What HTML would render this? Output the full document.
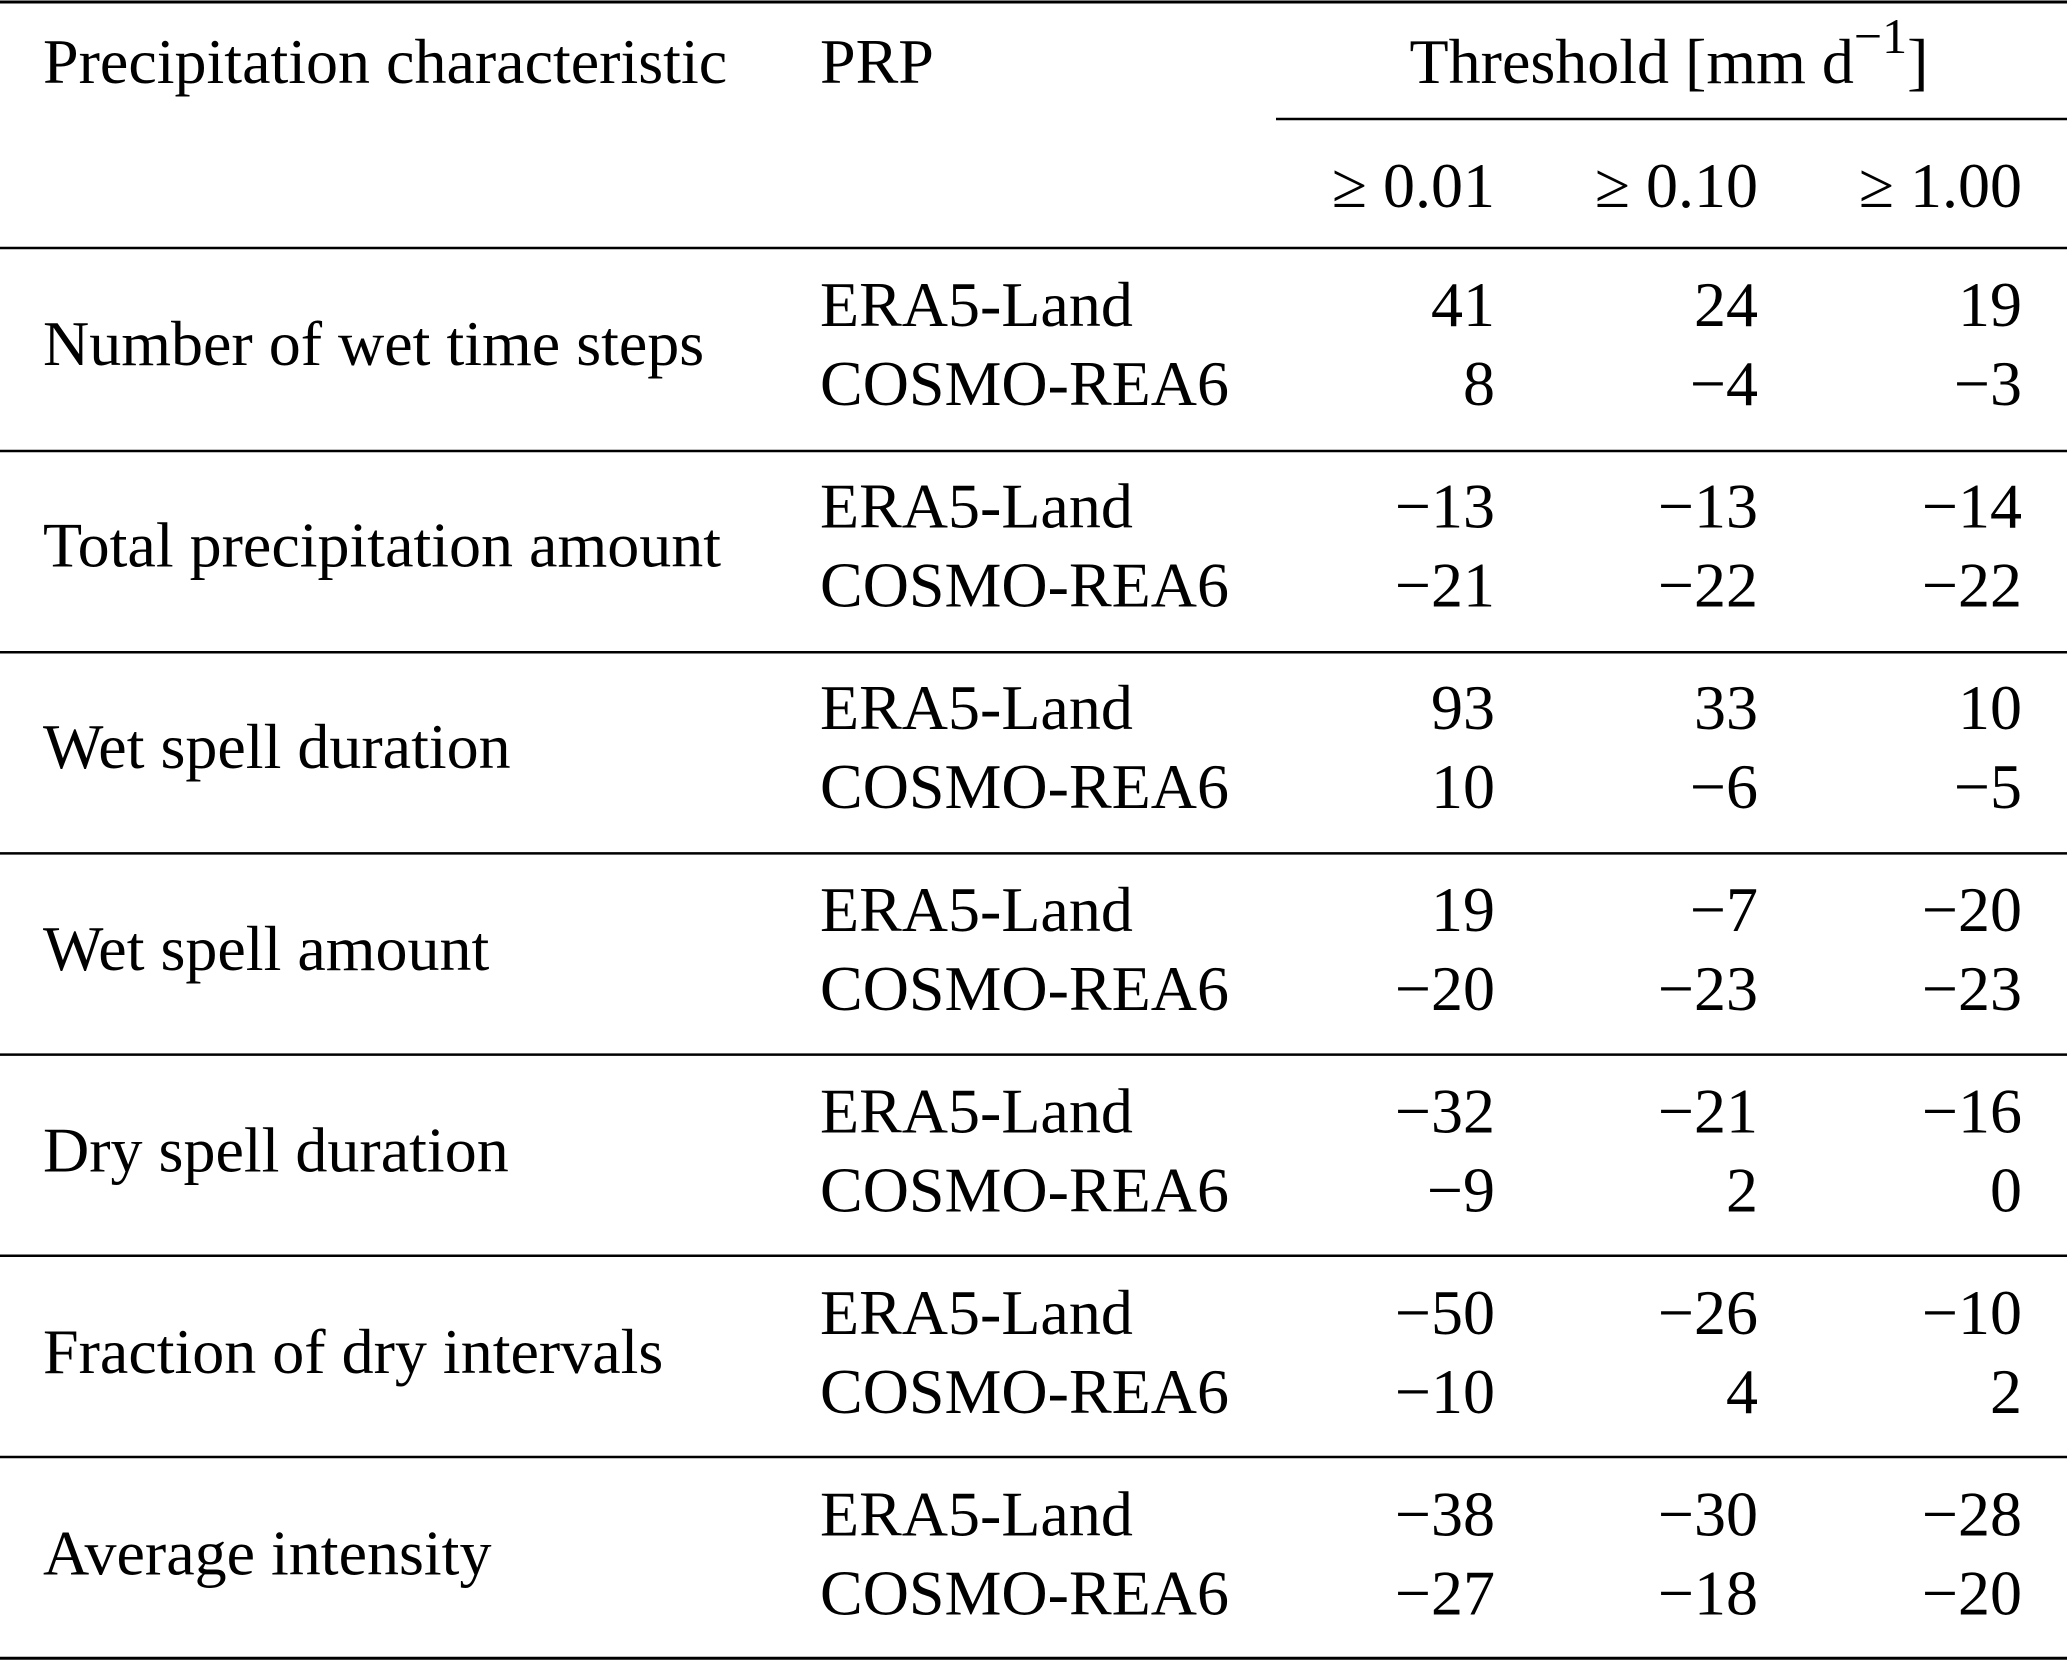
<!DOCTYPE html>
<html><head><meta charset="utf-8"><style>
html,body{margin:0;padding:0;background:#fff;}
svg{display:block;font-family:"Liberation Serif",serif;}
</style></head><body>
<svg width="2067" height="1662" viewBox="0 0 2067 1662">
<line x1="0" x2="2067" y1="2" y2="2" stroke="#000" stroke-width="3"/>
<text x="43" y="83" font-size="64">Precipitation characteristic</text>
<text x="820" y="83" font-size="64">PRP</text>
<text x="1669" y="83" font-size="64" text-anchor="middle">Threshold [mm d<tspan font-size="50" dy="-30">−1</tspan><tspan dy="30">]</tspan></text>
<line x1="1276" x2="2067" y1="119" y2="119" stroke="#000" stroke-width="2.5"/>
<text x="1495" y="207" font-size="64" text-anchor="end">≥ 0.01</text>
<text x="1758" y="207" font-size="64" text-anchor="end">≥ 0.10</text>
<text x="2022" y="207" font-size="64" text-anchor="end">≥ 1.00</text>
<line x1="0" x2="2067" y1="248" y2="248" stroke="#000" stroke-width="2.5"/>
<g id="body"></g>
</svg>
<script>
const characteristics=["Number of wet time steps","Total precipitation amount","Wet spell duration","Wet spell amount","Dry spell duration","Fraction of dry intervals","Average intensity"];
const products=["ERA5-Land","COSMO-REA6"];
const era5=[[41,24,19],[-13,-13,-14],[93,33,10],[19,-7,-20],[-32,-21,-16],[-50,-26,-10],[-38,-30,-28]];
const cosmo=[[8,-4,-3],[-21,-22,-22],[10,-6,-5],[-20,-23,-23],[-9,2,0],[-10,4,2],[-27,-18,-20]];
const NS="http://www.w3.org/2000/svg";
const g=document.getElementById('body');
const colX=[1495,1758,2022];
function txt(x,y,s,anchor){const t=document.createElementNS(NS,'text');t.setAttribute('x',x);t.setAttribute('y',y);t.setAttribute('font-size','64');if(anchor)t.setAttribute('text-anchor',anchor);t.textContent=s;g.appendChild(t);return t;}
function fmt(v){return v<0?'−'+Math.abs(v):String(v);}
characteristics.forEach((c,k)=>{
  const base=326+201.6*k;
  const l=txt(43,base+39,c);
  
  
  [era5,cosmo].forEach((arr,p)=>{
    const y=base+79*p;
    const pl=txt(820,y,products[p]);
    
    
    arr[k].forEach((v,j)=>{
      const cell=txt(colX[j],y,fmt(v),'end');
      
      
    });
  });
  const ln=document.createElementNS(NS,'line');
  const ly=451+201.2*k;
  ln.setAttribute('x1',0);ln.setAttribute('x2',2067);ln.setAttribute('y1',ly);ln.setAttribute('y2',ly);
  ln.setAttribute('stroke','#000');ln.setAttribute('stroke-width',k==characteristics.length-1?3:2.5);
  
  
  g.appendChild(ln);
});
</script>
</body></html>
